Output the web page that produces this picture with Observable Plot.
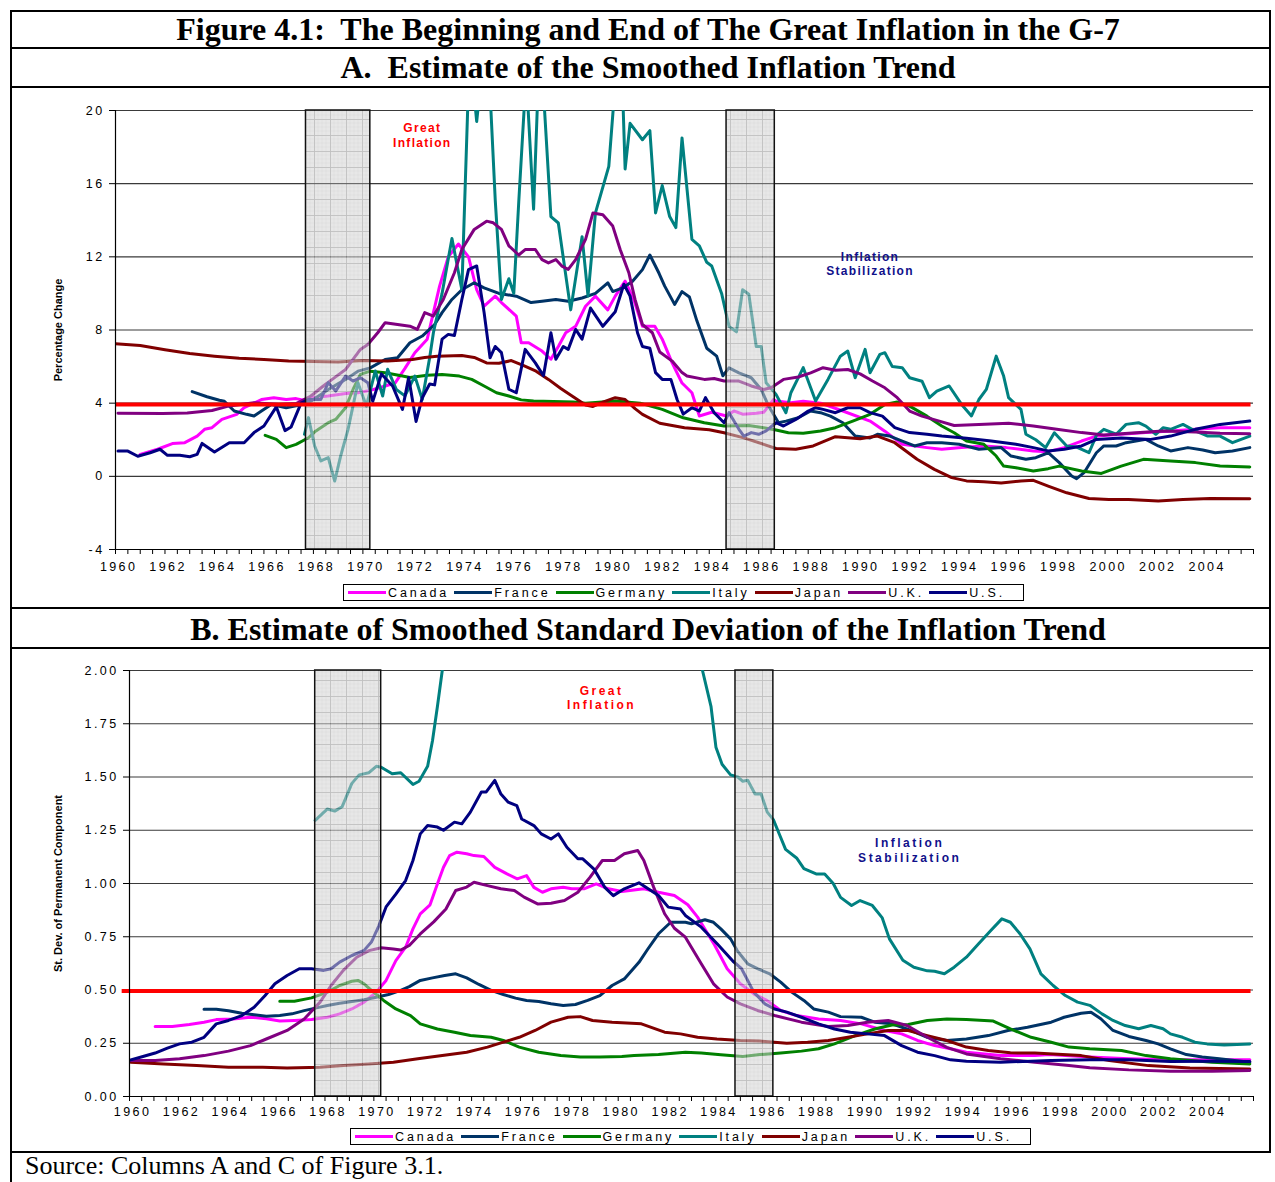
<!DOCTYPE html>
<html><head><meta charset="utf-8">
<script src="https://cdn.jsdelivr.net/npm/d3@7"></script>
<script src="https://cdn.jsdelivr.net/npm/@observablehq/plot@0.6"></script>
<style>
html,body{margin:0;padding:0;background:#fff;}
#page{position:relative;width:1275px;height:1182px;overflow:hidden;background:#fff;}
.box{position:absolute;left:10px;top:10px;width:1261px;height:1143px;border:2px solid #000;box-sizing:border-box;}
.hline{position:absolute;left:10px;width:1261px;height:2px;background:#000;}
.ttl{position:absolute;left:10px;width:1261px;padding-left:15px;box-sizing:border-box;text-align:center;font-family:"Liberation Serif","Times New Roman",serif;font-weight:bold;font-size:32px;line-height:34px;height:34px;white-space:nowrap;}
.panel{position:absolute;left:10px;}
.panel svg text{letter-spacing:2.4px;}
.legend{position:absolute;height:17px;border:1px solid #000;box-sizing:border-box;display:flex;align-items:center;font-family:"Liberation Sans",Arial,sans-serif;font-size:12.5px;letter-spacing:2.9px;padding-left:4px;background:#fff;white-space:nowrap;}
.legend .it{display:flex;align-items:center;margin-right:5px;}
.legend .sw{display:inline-block;width:38px;height:3px;margin-right:2px;}
.srcline{position:absolute;left:10px;top:1152px;width:2px;height:30px;background:#000;}
.src{position:absolute;left:25px;top:1153px;font-family:"Liberation Serif","Times New Roman",serif;font-size:26px;line-height:26px;white-space:nowrap;}
</style>
</head><body>
<svg width="0" height="0" style="position:absolute">
<defs><pattern id="bandgrid" width="16" height="16" patternUnits="userSpaceOnUse">
<rect width="16" height="16" fill="#d4d4d4"/>
<path d="M4 0V16M8 0V16M12 0V16M0 4H16M0 8H16M0 12H16" stroke="#bdbdbd" stroke-width="0.5"/>
<path d="M0.5 0V16M0 0.5H16" stroke="#8c8c8c" stroke-width="0.9"/>
</pattern></defs></svg>
<div id="page">
  <div class="box"></div>
  <div class="hline" style="top:47px"></div>
  <div class="hline" style="top:86px"></div>
  <div class="hline" style="top:607px"></div>
  <div class="hline" style="top:647px"></div>
  <div class="ttl" style="top:12px">Figure 4.1:&nbsp; The Beginning and End of The Great Inflation in the G-7</div>
  <div class="ttl" style="top:50px">A.&nbsp; Estimate of the Smoothed Inflation Trend</div>
  <div class="ttl" style="top:612px">B. Estimate of Smoothed Standard Deviation of the Inflation Trend</div>
  <div id="panelA" class="panel" style="top:87px"></div>
  <div id="panelB" class="panel" style="top:648px"></div>
  <div id="legendA" class="legend" style="left:343px;top:584px;width:681px"></div>
  <div id="legendB" class="legend" style="left:350px;top:1128px;width:681px"></div>
  <div class="srcline"></div>
  <div class="src">Source: Columns A and C of Figure 3.1.</div>
</div>
<script>
// ---------- categories / style lookups ----------
const countries = ["Canada", "France", "Germany", "Italy", "Japan", "U.K.", "U.S."];
const colors = ["#FF00FF", "#003366", "#008000", "#008080", "#800000", "#800080", "#000080"];
const xTickYears = [1960,1962,1964,1966,1968,1970,1972,1974,1976,1978,1980,1982,1984,1986,1988,1990,1992,1994,1996,1998,2000,2002,2004];
const yTicksA = [-4, 0, 4, 8, 12, 16, 20];
const yTicksB = [0, 0.25, 0.5, 0.75, 1, 1.25, 1.5, 1.75, 2];
const bandsA = [[1967.7, 1970.3], [1984.7, 1986.65]];
const bandsB = [[1967.6, 1970.3], [1984.8, 1986.35]];
const thresholdA = 3.93;
const thresholdB = 0.495;

// ---------- Panel A: smoothed inflation trend (percent) [year, value] ----------
const canadaA = [[1961.0,1.2],[1961.7,1.48],[1962.3,1.79],[1962.8,1.84],[1963.3,2.2],[1963.6,2.57],[1963.9,2.66],[1964.3,3.11],[1964.9,3.39],[1965.2,3.75],[1965.9,4.2],[1966.4,4.3],[1966.9,4.2],[1967.3,4.25],[1967.6,4.16],[1967.9,4.3],[1968.6,4.39],[1969.3,4.53],[1969.8,4.57],[1970.3,4.7],[1970.8,4.9],[1971.3,5.1],[1971.7,5.9],[1972.1,6.76],[1972.6,7.5],[1973.1,10.4],[1973.45,12.0],[1973.86,12.7],[1974.27,12.0],[1974.6,10.2],[1974.9,9.3],[1975.35,9.85],[1975.6,9.5],[1976.2,8.76],[1976.4,7.3],[1976.7,7.3],[1977.24,6.85],[1977.6,6.4],[1977.9,7.1],[1978.2,7.85],[1978.6,8.2],[1979.0,9.3],[1979.4,9.85],[1979.9,9.1],[1980.2,9.85],[1980.6,10.67],[1980.95,9.67],[1981.3,8.2],[1981.8,8.2],[1982.1,7.5],[1982.5,6.2],[1982.9,5.1],[1983.3,4.57],[1983.6,3.3],[1984.1,3.5],[1984.7,3.3],[1985.0,3.57],[1985.35,3.4],[1985.9,3.45],[1986.2,3.5],[1986.6,4.2],[1986.7,4.12],[1987.3,4.02],[1987.8,4.1],[1988.5,4.0],[1989.4,3.57],[1990.5,3.02],[1991.1,2.47],[1991.8,1.75],[1992.8,1.57],[1993.4,1.48],[1994.2,1.57],[1995.1,1.66],[1996.0,1.57],[1997.1,1.39],[1997.7,1.35],[1998.35,1.57],[1999.05,1.93],[1999.65,2.2],[2000.65,2.3],[2001.65,2.39],[2002.65,2.48],[2003.65,2.57],[2004.65,2.66],[2005.85,2.66]];
const franceA = [[1963.1,4.63],[1963.7,4.35],[1964.2,4.16],[1964.4,4.1],[1964.8,3.57],[1965.3,3.39],[1965.6,3.3],[1965.9,3.57],[1966.3,3.93],[1966.9,3.75],[1967.4,3.88],[1967.9,4.1],[1968.6,4.75],[1969.3,5.3],[1969.8,5.75],[1970.3,5.93],[1970.9,6.39],[1971.4,6.48],[1971.9,7.3],[1972.4,7.67],[1972.9,8.3],[1973.2,8.95],[1973.6,9.67],[1974.0,10.2],[1974.5,10.58],[1974.9,10.3],[1975.5,10.0],[1976.2,9.85],[1976.8,9.5],[1977.24,9.57],[1977.8,9.67],[1978.3,9.57],[1978.86,9.75],[1979.4,10.0],[1979.9,10.58],[1980.1,10.1],[1980.5,10.3],[1980.9,10.67],[1981.3,11.3],[1981.6,12.1],[1981.97,11.1],[1982.2,10.4],[1982.6,9.4],[1982.9,10.1],[1983.2,9.8],[1983.5,8.5],[1983.9,7.0],[1984.3,6.57],[1984.55,5.5],[1984.8,5.93],[1985.2,5.66],[1985.7,5.39],[1986.1,4.75],[1986.4,3.84],[1986.8,2.93],[1987.1,3.02],[1987.6,3.2],[1988.1,3.57],[1988.5,3.48],[1988.9,3.29],[1989.4,2.93],[1989.9,2.2],[1990.5,2.1],[1990.8,2.3],[1991.3,2.2],[1991.8,1.93],[1992.3,1.66],[1992.8,1.84],[1993.4,1.84],[1994.1,1.75],[1994.9,1.48],[1995.8,1.57],[1996.2,1.11],[1996.8,0.93],[1997.2,1.02],[1997.7,1.29],[1998.15,0.75],[1998.65,0.02],[1998.85,-0.13],[1999.15,0.2],[1999.65,1.29],[1999.95,1.66],[2000.45,1.66],[2000.85,1.84],[2001.25,1.93],[2001.65,2.02],[2002.15,1.66],[2002.65,1.39],[2003.35,1.57],[2003.95,1.44],[2004.45,1.29],[2005.15,1.39],[2005.85,1.57]];
const germanyA = [[1966.05,2.24],[1966.5,2.02],[1966.9,1.57],[1967.3,1.75],[1967.8,2.11],[1968.1,2.48],[1968.6,2.93],[1968.9,3.11],[1969.3,3.75],[1969.6,4.75],[1969.9,5.57],[1970.3,5.75],[1970.9,5.66],[1971.6,5.48],[1971.9,5.4],[1972.6,5.52],[1973.2,5.57],[1973.9,5.48],[1974.4,5.3],[1974.9,4.94],[1975.4,4.57],[1975.9,4.39],[1976.4,4.18],[1976.9,4.12],[1978.5,4.06],[1979.0,4.0],[1980.2,4.12],[1981.2,4.0],[1982.1,3.66],[1982.95,3.2],[1983.8,2.93],[1984.6,2.75],[1985.6,2.78],[1986.2,2.66],[1986.7,2.53],[1987.2,2.38],[1987.8,2.35],[1988.5,2.48],[1989.1,2.66],[1989.8,3.02],[1990.5,3.39],[1991.1,3.93],[1991.6,4.06],[1992.1,3.84],[1992.8,3.29],[1993.4,2.75],[1993.9,2.38],[1994.4,1.93],[1995.1,1.75],[1995.6,1.11],[1995.9,0.56],[1996.4,0.47],[1997.1,0.29],[1997.7,0.42],[1998.15,0.56],[1999.05,0.29],[1999.85,0.16],[2000.65,0.56],[2001.55,0.93],[2002.65,0.84],[2003.65,0.75],[2004.65,0.56],[2005.85,0.51]];
const italyA = [[1967.64,2.3],[1967.8,3.21],[1968.05,1.66],[1968.3,0.84],[1968.6,1.02],[1968.86,-0.26],[1969.1,1.11],[1969.4,2.57],[1969.8,5.12],[1970.14,3.84],[1970.5,5.76],[1970.8,4.39],[1971.0,5.85],[1971.35,4.75],[1971.7,4.4],[1972.1,5.48],[1972.4,4.2],[1972.7,6.5],[1972.85,7.85],[1973.2,10.0],[1973.6,13.0],[1974.0,10.2],[1974.27,21.5],[1974.45,21.5],[1974.6,19.4],[1974.8,22],[1975.14,21],[1975.35,15.1],[1975.6,9.67],[1975.9,10.8],[1976.1,10.0],[1976.3,15],[1976.6,22],[1976.9,14.6],[1977.1,22],[1977.3,21],[1977.6,14.2],[1977.9,13.85],[1978.4,9.1],[1978.86,13.1],[1979.1,9.86],[1979.4,14.4],[1979.94,16.95],[1980.2,21.5],[1980.5,21],[1980.6,16.8],[1980.8,19.3],[1981.3,18.4],[1981.6,18.9],[1981.83,14.4],[1982.1,15.9],[1982.4,14.2],[1982.65,13.6],[1982.9,18.5],[1983.3,12.95],[1983.6,12.6],[1983.9,11.7],[1984.1,11.5],[1984.5,10.0],[1984.8,8.2],[1985.1,7.9],[1985.35,10.2],[1985.6,9.95],[1985.9,7.1],[1986.1,7.1],[1986.3,5.12],[1986.7,4.48],[1987.1,3.48],[1987.3,4.57],[1987.8,5.94],[1988.3,4.12],[1988.8,5.3],[1989.3,6.57],[1989.6,6.85],[1989.9,5.39],[1990.3,6.94],[1990.5,5.66],[1990.9,6.67],[1991.1,6.76],[1991.4,6.0],[1991.8,5.94],[1992.1,5.39],[1992.6,5.2],[1992.9,4.3],[1993.2,4.66],[1993.7,4.94],[1994.2,3.93],[1994.6,3.3],[1994.9,4.2],[1995.2,4.75],[1995.6,6.57],[1995.9,5.48],[1996.1,4.3],[1996.6,3.66],[1996.8,2.3],[1997.2,2.0],[1997.6,1.57],[1997.95,2.38],[1998.45,1.66],[1998.85,1.6],[1999.35,1.29],[1999.65,2.24],[1999.95,2.57],[2000.45,2.3],[2000.85,2.84],[2001.35,2.93],[2001.65,2.75],[2002.05,2.3],[2002.35,2.66],[2002.65,2.57],[2003.15,2.84],[2003.65,2.48],[2004.15,2.2],[2004.65,2.2],[2005.15,1.84],[2005.85,2.2]];
const japanA = [[1960.0,7.25],[1961,7.15],[1962,6.92],[1963,6.72],[1964,6.57],[1965,6.45],[1966,6.39],[1967,6.3],[1968,6.28],[1969,6.25],[1970,6.33],[1971,6.3],[1972,6.39],[1972.5,6.5],[1973,6.57],[1974,6.6],[1974.5,6.5],[1975,6.2],[1975.5,6.18],[1976,6.33],[1976.5,6.05],[1977,5.75],[1977.5,5.3],[1978,4.8],[1978.5,4.35],[1979,3.9],[1979.3,3.82],[1979.7,4.06],[1980.2,4.3],[1980.6,4.2],[1981,3.7],[1981.3,3.39],[1982,2.9],[1983,2.66],[1984,2.55],[1984.6,2.38],[1985.4,2.1],[1986.2,1.75],[1986.7,1.52],[1987.5,1.48],[1988.2,1.66],[1989.1,2.17],[1990.1,2.06],[1990.8,2.2],[1991.5,1.84],[1992.4,0.93],[1993.1,0.38],[1993.8,-0.07],[1994.4,-0.25],[1995.1,-0.3],[1995.8,-0.37],[1996.6,-0.25],[1997.1,-0.22],[1997.7,-0.53],[1998.45,-0.9],[1999.35,-1.21],[2000.15,-1.26],[2000.95,-1.26],[2002.15,-1.35],[2003.15,-1.26],[2004.25,-1.21],[2005.85,-1.23]];
const ukA = [[1960.1,3.45],[1961.9,3.44],[1962.9,3.46],[1963.9,3.6],[1964.6,3.85],[1965.6,4.02],[1966.6,3.93],[1967.3,3.98],[1967.9,4.39],[1968.4,4.94],[1968.8,5.34],[1969.3,5.84],[1969.6,6.39],[1969.9,6.94],[1970.2,7.21],[1970.6,7.85],[1970.9,8.4],[1971.4,8.3],[1971.9,8.21],[1972.2,8.03],[1972.5,8.95],[1972.85,8.76],[1973.25,9.67],[1973.7,11.13],[1974.0,12.4],[1974.5,13.5],[1975.0,13.95],[1975.27,13.86],[1975.6,13.5],[1975.9,12.6],[1976.3,12.1],[1976.56,12.4],[1976.97,12.4],[1977.24,11.85],[1977.5,11.67],[1977.8,11.85],[1978.05,11.49],[1978.3,11.31],[1978.6,11.85],[1979.0,12.95],[1979.3,14.4],[1979.7,14.3],[1980.1,13.68],[1980.4,12.4],[1980.75,11.13],[1981.0,9.67],[1981.3,8.3],[1981.7,7.85],[1982.0,6.8],[1982.5,6.3],[1982.9,5.67],[1983.1,5.49],[1983.8,5.3],[1984.2,5.35],[1984.6,5.21],[1985.2,5.21],[1985.7,4.94],[1986.2,4.75],[1986.5,4.84],[1987.0,5.3],[1987.6,5.43],[1988.1,5.66],[1988.6,5.94],[1989.1,5.8],[1989.6,5.84],[1990.1,5.6],[1990.6,5.21],[1991.1,4.84],[1991.6,4.3],[1992.1,3.57],[1992.6,3.29],[1993.3,3.02],[1993.9,2.78],[1994.9,2.84],[1996.1,2.9],[1997.1,2.75],[1998.05,2.57],[1999.05,2.39],[1999.95,2.26],[2000.95,2.35],[2002.35,2.48],[2003.65,2.42],[2004.65,2.35],[2005.85,2.33]];
const usA = [[1960.1,1.38],[1960.5,1.38],[1960.9,1.1],[1961.4,1.29],[1961.8,1.48],[1962.1,1.15],[1962.6,1.15],[1963.0,1.07],[1963.3,1.2],[1963.5,1.8],[1964.0,1.33],[1964.6,1.84],[1965.2,1.84],[1965.6,2.39],[1966.0,2.75],[1966.5,3.8],[1966.85,2.5],[1967.1,2.7],[1967.5,4.0],[1967.8,4.2],[1968.3,4.2],[1968.6,5.12],[1968.9,4.66],[1969.3,5.48],[1969.6,5.21],[1969.9,5.39],[1970.2,5.12],[1970.4,4.1],[1970.75,5.6],[1971.2,4.94],[1971.6,3.66],[1971.85,5.4],[1972.15,3.0],[1972.4,4.3],[1972.7,5.05],[1972.9,5.0],[1973.2,7.5],[1973.45,7.76],[1973.7,7.7],[1974.0,9.67],[1974.27,11.3],[1974.6,11.5],[1974.9,8.95],[1975.14,6.48],[1975.35,7.1],[1975.6,6.76],[1975.9,4.76],[1976.2,4.57],[1976.56,6.94],[1976.97,6.2],[1977.3,5.5],[1977.6,7.85],[1977.8,6.4],[1978.1,7.1],[1978.3,6.94],[1978.6,8.03],[1978.86,7.5],[1979.2,9.2],[1979.7,8.2],[1980.2,9.0],[1980.55,10.5],[1980.8,9.85],[1981.1,7.85],[1981.3,7.1],[1981.6,7.0],[1981.83,5.67],[1982.1,5.3],[1982.45,5.3],[1982.7,4.2],[1982.95,3.4],[1983.3,3.75],[1983.6,3.57],[1983.85,4.3],[1984.2,3.48],[1984.6,2.93],[1984.8,3.48],[1985.2,2.57],[1985.4,2.2],[1985.7,2.39],[1986.0,2.3],[1986.3,2.48],[1986.7,2.93],[1987.0,2.75],[1987.5,3.11],[1988.0,3.57],[1988.3,3.75],[1988.6,3.66],[1989.1,3.48],[1989.6,3.75],[1990.1,3.75],[1990.5,3.48],[1991.0,3.29],[1991.5,2.66],[1992.1,2.39],[1992.8,2.3],[1993.4,2.2],[1994.4,2.08],[1995.4,1.93],[1996.4,1.75],[1997.1,1.57],[1997.7,1.39],[1998.35,1.48],[1999.05,1.66],[1999.65,2.02],[2000.65,2.1],[2001.85,2.02],[2002.65,2.2],[2003.65,2.57],[2004.65,2.84],[2005.85,3.02]];

// ---------- Panel B: smoothed st. dev. of permanent component [year, value] ----------
const canadaB = [[1961.05,0.329],[1961.75,0.329],[1962.45,0.338],[1963.05,0.349],[1963.55,0.361],[1964.25,0.364],[1964.95,0.372],[1965.6,0.365],[1966.15,0.354],[1966.75,0.357],[1967.45,0.361],[1968.1,0.372],[1968.6,0.388],[1969.1,0.411],[1969.6,0.443],[1970.1,0.49],[1970.5,0.545],[1970.9,0.638],[1971.3,0.701],[1971.6,0.787],[1971.9,0.857],[1972.3,0.9],[1972.6,0.998],[1972.85,1.076],[1973.1,1.131],[1973.4,1.147],[1973.8,1.14],[1974.1,1.131],[1974.5,1.127],[1974.95,1.076],[1975.45,1.045],[1975.87,1.022],[1976.25,1.037],[1976.55,0.982],[1976.9,0.959],[1977.25,0.975],[1977.75,0.982],[1978.1,0.975],[1978.6,0.975],[1979.1,0.998],[1979.6,0.975],[1980.15,0.962],[1981.05,0.975],[1981.65,0.959],[1982.3,0.944],[1982.85,0.9],[1983.25,0.842],[1983.95,0.71],[1984.46,0.6],[1985.0,0.529],[1985.55,0.482],[1986.1,0.45],[1986.65,0.404],[1987.3,0.38],[1988.2,0.364],[1989.1,0.357],[1989.95,0.341],[1990.9,0.31],[1991.6,0.294],[1992.25,0.263],[1992.95,0.239],[1993.6,0.224],[1994.25,0.208],[1995.65,0.192],[1997.05,0.192],[1997.65,0.197],[1999.3,0.185],[2000.9,0.177],[2002.6,0.172],[2004.3,0.172],[2005.85,0.172]];
const franceB = [[1963.05,0.41],[1963.55,0.41],[1964.05,0.403],[1964.6,0.391],[1965.1,0.384],[1965.6,0.377],[1966.15,0.38],[1966.65,0.388],[1967.15,0.403],[1967.65,0.416],[1968.1,0.427],[1968.6,0.438],[1969.1,0.446],[1969.6,0.454],[1970.1,0.466],[1970.6,0.479],[1971.1,0.498],[1971.45,0.516],[1971.9,0.545],[1972.4,0.557],[1972.9,0.568],[1973.35,0.576],[1973.8,0.557],[1974.3,0.526],[1974.8,0.498],[1975.3,0.479],[1975.8,0.462],[1976.25,0.451],[1976.75,0.446],[1977.25,0.435],[1977.75,0.427],[1978.25,0.432],[1978.75,0.451],[1979.25,0.474],[1979.75,0.521],[1980.25,0.552],[1980.85,0.63],[1981.2,0.69],[1981.65,0.764],[1982.15,0.818],[1982.75,0.818],[1983.0,0.811],[1983.55,0.83],[1983.9,0.818],[1984.2,0.787],[1984.6,0.74],[1984.87,0.685],[1985.3,0.623],[1985.7,0.6],[1986.2,0.576],[1986.65,0.537],[1987.1,0.49],[1987.6,0.451],[1988.0,0.411],[1988.6,0.396],[1989.1,0.375],[1989.95,0.372],[1990.5,0.349],[1991.2,0.341],[1991.82,0.317],[1992.65,0.278],[1993.45,0.263],[1994.25,0.27],[1995.15,0.286],[1995.95,0.31],[1996.75,0.325],[1997.72,0.349],[1998.25,0.372],[1998.95,0.391],[1999.35,0.396],[1999.75,0.365],[2000.25,0.31],[2000.9,0.282],[2001.6,0.263],[2002.1,0.247],[2002.6,0.224],[2003.25,0.197],[2003.9,0.185],[2004.6,0.177],[2005.85,0.161]];
const germanyB = [[1966.15,0.447],[1966.75,0.447],[1967.45,0.463],[1968.1,0.49],[1968.6,0.521],[1969.1,0.541],[1969.35,0.545],[1969.6,0.529],[1969.9,0.498],[1970.4,0.451],[1970.9,0.411],[1971.5,0.38],[1971.9,0.341],[1972.6,0.317],[1973.3,0.302],[1973.95,0.286],[1974.8,0.278],[1975.3,0.263],[1975.95,0.232],[1976.75,0.208],[1977.65,0.192],[1978.45,0.185],[1979.25,0.185],[1980.15,0.188],[1980.65,0.192],[1981.65,0.197],[1982.75,0.208],[1983.4,0.204],[1984.2,0.196],[1985.1,0.188],[1985.8,0.197],[1986.65,0.204],[1987.5,0.213],[1988.2,0.224],[1988.85,0.247],[1989.7,0.286],[1990.5,0.317],[1991.2,0.336],[1991.87,0.338],[1992.65,0.357],[1993.45,0.364],[1994.25,0.361],[1995.35,0.354],[1996.05,0.317],[1996.9,0.278],[1997.72,0.255],[1998.45,0.232],[1999.3,0.224],[2000.6,0.216],[2001.6,0.192],[2002.6,0.177],[2004.3,0.161],[2005.85,0.153]];
const italyB = [[1967.6,1.296],[1968.1,1.35],[1968.4,1.34],[1968.7,1.36],[1969.1,1.47],[1969.4,1.51],[1969.8,1.52],[1970.1,1.55],[1970.3,1.546],[1970.75,1.515],[1971.1,1.52],[1971.6,1.465],[1971.85,1.48],[1972.2,1.55],[1972.4,1.67],[1972.6,1.83],[1972.8,2.0],[1973.0,2.5],[1978.0,3.2],[1983.25,2.45],[1983.45,2.0],[1983.8,1.83],[1984.0,1.64],[1984.25,1.56],[1984.6,1.51],[1984.9,1.5],[1985.1,1.48],[1985.3,1.485],[1985.6,1.42],[1985.85,1.42],[1986.1,1.335],[1986.35,1.3],[1986.6,1.23],[1986.85,1.16],[1987.3,1.12],[1987.6,1.07],[1988.1,1.045],[1988.45,1.045],[1988.8,1.0],[1989.1,0.935],[1989.55,0.897],[1989.9,0.92],[1990.4,0.897],[1990.8,0.84],[1991.1,0.74],[1991.65,0.64],[1992.1,0.607],[1992.65,0.59],[1992.95,0.588],[1993.35,0.576],[1993.75,0.607],[1994.25,0.654],[1994.75,0.717],[1995.25,0.779],[1995.7,0.834],[1996.05,0.818],[1996.45,0.763],[1996.85,0.693],[1997.3,0.576],[1997.8,0.521],[1998.3,0.474],[1998.8,0.443],[1999.3,0.428],[1999.8,0.388],[2000.25,0.357],[2000.75,0.333],[2001.3,0.318],[2001.8,0.333],[2002.3,0.318],[2002.6,0.294],[2003.1,0.278],[2003.6,0.255],[2004.1,0.247],[2004.8,0.242],[2005.85,0.247]];
const japanB = [[1960.05,0.161],[1961.4,0.153],[1962.75,0.145],[1964.05,0.137],[1965.45,0.137],[1966.45,0.134],[1967.8,0.137],[1968.75,0.145],[1969.8,0.153],[1970.8,0.161],[1971.8,0.177],[1972.8,0.192],[1973.8,0.208],[1974.65,0.232],[1975.3,0.255],[1975.95,0.278],[1976.6,0.31],[1977.25,0.349],[1977.95,0.372],[1978.45,0.375],[1978.95,0.357],[1979.75,0.349],[1980.95,0.341],[1981.9,0.302],[1982.55,0.294],[1983.25,0.278],[1984.04,0.27],[1985.0,0.263],[1985.8,0.26],[1986.9,0.25],[1987.75,0.255],[1988.6,0.263],[1989.4,0.278],[1990.2,0.294],[1991.05,0.31],[1991.87,0.31],[1992.65,0.286],[1993.45,0.263],[1994.25,0.232],[1995.15,0.216],[1996.05,0.205],[1997.05,0.204],[1998.95,0.192],[2000.1,0.169],[2001.7,0.145],[2003.4,0.134],[2005.85,0.129]];
const ukB = [[1960.05,0.169],[1961.05,0.169],[1962.05,0.177],[1963.05,0.192],[1964.05,0.213],[1964.95,0.239],[1965.6,0.27],[1966.45,0.31],[1967.15,0.364],[1967.8,0.443],[1968.25,0.521],[1968.75,0.592],[1969.3,0.654],[1969.8,0.685],[1970.3,0.698],[1970.8,0.693],[1971.1,0.688],[1971.45,0.709],[1971.9,0.763],[1972.45,0.82],[1972.95,0.88],[1973.35,0.967],[1973.8,0.983],[1974.1,1.006],[1974.65,0.99],[1975.2,0.975],[1975.75,0.967],[1976.15,0.936],[1976.7,0.904],[1977.25,0.907],[1977.8,0.92],[1978.35,0.959],[1978.85,1.03],[1979.35,1.108],[1979.85,1.108],[1980.25,1.14],[1980.8,1.155],[1981.05,1.108],[1981.45,0.983],[1981.9,0.858],[1982.3,0.79],[1982.75,0.748],[1983.4,0.623],[1983.9,0.529],[1984.46,0.467],[1985.0,0.435],[1985.7,0.404],[1986.4,0.38],[1987.5,0.349],[1988.6,0.329],[1989.4,0.333],[1990.2,0.349],[1991.05,0.357],[1991.82,0.333],[1992.65,0.278],[1993.45,0.231],[1994.25,0.2],[1995.65,0.177],[1997.05,0.161],[1998.45,0.146],[1999.3,0.135],[2000.9,0.125],[2002.6,0.119],[2004.3,0.119],[2005.85,0.122]];
const usB = [[1960.05,0.172],[1960.55,0.188],[1961.05,0.204],[1961.55,0.227],[1962.05,0.247],[1962.55,0.255],[1963.05,0.278],[1963.55,0.341],[1964.05,0.357],[1964.6,0.38],[1965.1,0.419],[1965.55,0.474],[1965.95,0.529],[1966.45,0.568],[1966.95,0.6],[1967.45,0.6],[1967.95,0.592],[1968.25,0.6],[1968.6,0.631],[1969.1,0.662],[1969.6,0.686],[1969.9,0.725],[1970.2,0.8],[1970.5,0.89],[1970.9,0.95],[1971.3,1.014],[1971.6,1.108],[1971.9,1.233],[1972.2,1.272],[1972.6,1.265],[1972.85,1.25],[1973.3,1.288],[1973.6,1.28],[1973.95,1.335],[1974.4,1.43],[1974.6,1.43],[1974.95,1.484],[1975.2,1.42],[1975.5,1.382],[1975.85,1.366],[1976.05,1.303],[1976.55,1.272],[1976.85,1.233],[1977.25,1.209],[1977.55,1.233],[1977.9,1.17],[1978.35,1.116],[1978.55,1.116],[1979.0,1.069],[1979.45,0.982],[1979.8,0.943],[1980.25,0.975],[1980.85,1.003],[1981.65,0.944],[1982.05,0.889],[1982.55,0.88],[1982.75,0.85],[1983.4,0.795],[1984.05,0.717],[1984.7,0.635],[1985.05,0.6],[1985.55,0.49],[1986.0,0.435],[1986.4,0.411],[1986.9,0.396],[1987.5,0.372],[1988.2,0.341],[1988.85,0.317],[1989.5,0.302],[1990.2,0.294],[1990.9,0.286],[1991.6,0.239],[1992.25,0.208],[1992.95,0.192],[1993.6,0.172],[1994.25,0.166],[1995.65,0.161],[1997.72,0.169],[1999.3,0.172],[2000.9,0.172],[2002.6,0.164],[2004.3,0.166],[2005.85,0.164]];

const seriesA = [canadaA, franceA, germanyA, italyA, japanA, ukA, usA];
const seriesB = [canadaB, franceB, germanyB, italyB, japanB, ukB, usB];

function toRows(series) {
  return series.flatMap((s, i) => s.map(([x, y]) => ({country: countries[i], x, y})));
}

const halfYears = d3.range(1960, 2006.01, 0.5);

function panel(o) {
  const [yMin, yMax] = o.yDomain;
  const svg = Plot.plot({
    width: 1261, height: o.height,
    marginLeft: o.ml, marginRight: 18, marginTop: o.mt, marginBottom: o.mb,
    style: {fontFamily: '"Liberation Sans", Arial, sans-serif', fontSize: "12.5px", color: "#000", background: "transparent", overflow: "visible"},
    x: {domain: [1960, 2006], ticks: halfYears, tickFormat: () => "", tickSize: 5, label: null},
    y: {domain: o.yDomain, ticks: o.yTicks, tickFormat: o.fmt, tickSize: 6, tickPadding: 5, label: null},
    color: {domain: countries, range: colors},
    marks: [
      Plot.ruleY(o.yTicks.filter(d => d !== yMin), {stroke: "#3a3a3a", strokeWidth: 1.1}),
      Plot.line(toRows(o.series), {x: "x", y: "y", z: "country", stroke: "country", strokeWidth: 3, clip: true}),
      Plot.rect(o.bands, {x1: d => d[0], x2: d => d[1], y1: yMin, y2: yMax, fill: "#dcdcdc", fillOpacity: 0.55, stroke: "#111", strokeWidth: 1.5}),
      Plot.ruleY([o.threshold], {x1: o.redX1, x2: 2005.9, stroke: "#ff0000", strokeWidth: 4}),
      Plot.ruleY([yMin], {stroke: "#000", strokeWidth: 1.2}),
      Plot.ruleX([1960], {stroke: "#000", strokeWidth: 1.2}),
      Plot.text(xTickYears, {x: d => d + 0.125, y: yMin, dy: o.labelDy, text: d => String(d), fontSize: 12.5}),
      Plot.text([o.ann1], {x: d => d.x, y: d => d.y, text: d => d.t, fill: "#ff0000", fontWeight: "bold", fontSize: 12, lineHeight: 1.2}),
      Plot.text([o.ann2], {x: d => d.x, y: d => d.y, text: d => d.t, fill: "#10108a", fontWeight: "bold", fontSize: 12, lineHeight: 1.2}),
      Plot.text([o.yTitle], {frameAnchor: "left", textAnchor: "middle", rotate: -90, dx: o.titleDx, fontSize: 11, fontWeight: "bold"})
    ]
  });
  svg.querySelectorAll('[fill="#dcdcdc"]').forEach(el => el.setAttribute("fill", "url(#bandgrid)"));
  svg.querySelectorAll("text").forEach(t => {
    const s = t.textContent;
    if (/Great|Stabilization/.test(s)) t.style.letterSpacing = o.annSpacing;
    else if (/Change|Component/.test(s)) t.style.letterSpacing = "0px";
  });
  return svg;
}

document.getElementById("panelA").appendChild(panel({
  series: seriesA, yDomain: [-4, 20], yTicks: yTicksA, fmt: d => String(d),
  bands: bandsA, threshold: thresholdA, redX1: 1960, height: 521, ml: 105, mt: 23, mb: 59, labelDy: 17,
  ann1: {x: 1972.4, y: 18.66, t: "Great\nInflation"},
  ann2: {x: 1990.5, y: 11.64, t: "Inflation\nStabilization"},
  yTitle: "Percentage Change", titleDx: -57, annSpacing: "1.3px"
}));
document.getElementById("panelB").appendChild(panel({
  series: seriesB, yDomain: [0, 2], yTicks: yTicksB, fmt: d => d.toFixed(2),
  bands: bandsB, threshold: thresholdB, redX1: 1959.7, height: 504, ml: 119, mt: 22, mb: 56, labelDy: 15,
  ann1: {x: 1979.32, y: 1.873, t: "Great\nInflation"},
  ann2: {x: 1991.93, y: 1.157, t: "Inflation\nStabilization"},
  yTitle: "St. Dev. of Permanent Component", titleDx: -71, annSpacing: "2.5px"
}));

function legend(id) {
  const el = document.getElementById(id);
  countries.forEach((c, i) => {
    const it = document.createElement("div");
    it.className = "it";
    const sw = document.createElement("span");
    sw.className = "sw";
    sw.style.background = colors[i];
    it.appendChild(sw);
    it.appendChild(document.createTextNode(c));
    el.appendChild(it);
  });
}
legend("legendA");
legend("legendB");
</script>
</body></html>
